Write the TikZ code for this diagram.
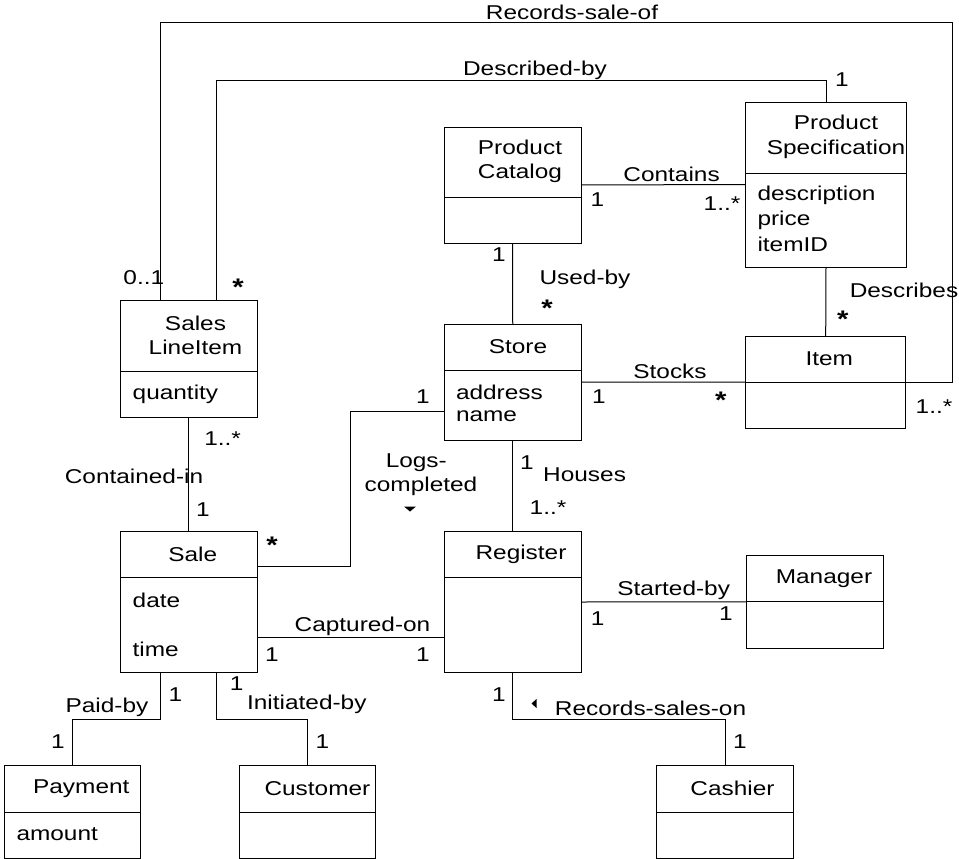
\documentclass[tikz,border=0pt]{standalone}
\usepackage{fontspec}
\setmainfont{Liberation Sans}[FakeStretch=1.22]
\tikzset{
  cls/.style={draw, line width=1pt, rectangle, inner sep=0pt, outer sep=0pt},
  lbl/.style={inner sep=0pt, outer sep=0pt, font=\fontsize{20}{24.5}\selectfont},
  att/.style={lbl, anchor=west},
  star/.style={inner sep=0pt, outer sep=0pt, font=\fontsize{24}{24}\selectfont\bfseries, yshift=-5pt},
  conn/.style={line width=1pt},
}
\newcommand\umlbox[6]{%
  \node[cls, minimum width={#4-#2}, minimum height={#5-#3}] (#1) at ({(#2+#4)/2},{(#3+#5)/2}) {};
  \draw[line width=1pt] (#1.west |- 0,#6) -- (#1.east |- 0,#6);
}
\begin{document}
\begin{tikzpicture}[x=1pt,y=-1pt]
\useasboundingbox (0,0) rectangle (959,859);
% class boxes
\umlbox{sli}{120}{300.7}{257}{417.3}{371}
\umlbox{cat}{444}{127}{581}{243}{197}
\umlbox{spec}{745.5}{102}{906.5}{267}{173}
\umlbox{store}{444.5}{324}{581}{440}{370}
\umlbox{item}{745.7}{336}{905.7}{428.3}{382.3}
\umlbox{sale}{120}{531.7}{257}{672.3}{577.7}
\umlbox{reg}{444.5}{531.7}{581}{672.3}{577.7}
\umlbox{mgr}{746.8}{555.7}{883.2}{648}{601.7}
\umlbox{pay}{4.9}{765.7}{140.7}{858}{812}
\umlbox{cust}{239.8}{765.7}{375.5}{858}{812}
\umlbox{cash}{656.9}{765.7}{793.3}{858}{812}
% class titles and attributes
\node[lbl, align=center] (tsli) at (195.5,335.5) {Sales\\LineItem};
\node[att] (asli) at (132.7,394) {quantity};
\node[lbl, align=center] (tcat) at (520,161.5) {Product\\Catalog};
\node[lbl, align=center] (tspec) at (836,137) {Product\\Specification};
\node[att] (aspec1) at (757.5,195) {description};
\node[att] (aspec2) at (757.5,220) {price};
\node[att] (aspec3) at (757.5,244.3) {itemID};
\node[lbl] (tstore) at (518,346.7) {Store};
\node[att] (astore1) at (456,392) {address};
\node[att] (astore2) at (456,416.7) {name};
\node[lbl] (titem) at (829.3,358.7) {Item};
\node[lbl] (tsale) at (192.7,554) {Sale};
\node[att] (asale1) at (132.7,600) {date};
\node[att] (asale2) at (132.7,649.3) {time};
\node[lbl] (treg) at (521,554) {Register};
\node[lbl] (tmgr) at (824,578.3) {Manager};
\node[lbl] (tpay) at (81.3,788.3) {Payment};
\node[att] (apay) at (16.5,834.3) {amount};
\node[lbl] (tcust) at (317.4,788.3) {Customer};
\node[lbl] (tcash) at (732.5,788.3) {Cashier};
% bend points
\coordinate (rsobend) at (952,22.7);
\coordinate (dbbend) at (spec.north |- 0,80.7);
\coordinate (logbend) at (350.7,566);
\coordinate (pbbend) at (pay.north |- 0,719);
\coordinate (ibbend) at (cust.north |- 0,719);
\coordinate (rsbend) at (cash.north |- 0,719);
% connectors
\draw[conn] ([xshift=-28pt]sli.north) |- (rsobend) |- (item.east);
\draw[conn] ([xshift=27.5pt]sli.north) |- (dbbend) -- (spec.north);
\draw[conn] (cat.east) -- (spec.west);
\draw[conn] (cat.south) -- (store.north);
\draw[conn] (spec.south) -- (item.north);
\draw[conn] (store.east) -- (item.west);
\draw[conn] (store.south) -- (reg.north);
\draw[conn] (sli.south) -- (sale.north);
\draw[conn] ([yshift=-29.7pt]store.west) -| (logbend) -- ([yshift=36pt]sale.east);
\draw[conn] ([yshift=-35.3pt]sale.east) -- ([yshift=-35.3pt]reg.west);
\draw[conn] (reg.east) -- (mgr.west);
\draw[conn] ([xshift=-28.5pt]sale.south) |- (pbbend) -- (pay.north);
\draw[conn] ([xshift=28.3pt]sale.south) |- (ibbend) -- (cust.north);
\draw[conn] (reg.south) |- (rsbend) -- (cash.north);
% direction triangles
\fill (404,506.5) -- (416,506.5) -- (410,511.5) -- cycle;
\fill (536.5,699) -- (536.5,708) -- (531.5,703.5) -- cycle;
% labels
\node[lbl] (lrso) at (572,12.7) {Records-sale-of};
\node[lbl] (ldb) at (535,70.7) {Described-by};
\node[lbl] (m1) at (842,80) {1};
\node[lbl] (lcont) at (671.6,174) {Contains};
\node[lbl] (m2) at (597.5,200) {1};
\node[lbl] (m3) at (722,204) {1..*};
\node[lbl] (m4) at (499,255) {1};
\node[lbl] (lused) at (585,279) {Used-by};
\node[star] (m5) at (547,303) {*};
\node[lbl] (m6) at (143.8,278) {0..1};
\node[star] (m7) at (238,282) {*};
\node[lbl] (ldesc) at (904,290.7) {Describes};
\node[star] (m8) at (842.7,314.3) {*};
\node[lbl] (lstocks) at (670,371) {Stocks};
\node[lbl] (m9) at (599,396.7) {1};
\node[star] (m10) at (720.7,395) {*};
\node[lbl] (m11) at (934,406.7) {1..*};
\node[lbl] (m12) at (423,396.7) {1};
\node[lbl] (m13) at (222.6,439) {1..*};
\node[lbl] (lci) at (134,476) {Contained-in};
\node[lbl] (m14) at (203,509.3) {1};
\node[lbl] (llogs1) at (416.3,462.7) {Logs-};
\node[lbl] (llogs2) at (421,486.7) {completed};
\node[star] (m15) at (272,540) {*};
\node[lbl] (m16) at (527,462.7) {1};
\node[lbl] (lhouses) at (584.6,474.3) {Houses};
\node[lbl] (m17) at (548,507.7) {1..*};
\node[lbl] (lsb) at (673.7,590.7) {Started-by};
\node[lbl] (m18) at (597.6,619) {1};
\node[lbl] (m19) at (726,613.3) {1};
\node[lbl] (lco) at (362.5,626) {Captured-on};
\node[lbl] (m20) at (272,654.3) {1};
\node[lbl] (m21) at (423,654.3) {1};
\node[lbl] (m22) at (175.5,695) {1};
\node[lbl] (lpb) at (107,707.7) {Paid-by};
\node[lbl] (m23) at (58,741.7) {1};
\node[lbl] (m24) at (236.7,683.3) {1};
\node[lbl] (lib) at (306.8,704.3) {Initiated-by};
\node[lbl] (m25) at (322.3,741.7) {1};
\node[lbl] (m26) at (499,695) {1};
\node[lbl] (lrson) at (650.5,708.3) {Records-sales-on};
\node[lbl] (m27) at (740,741.7) {1};
\end{tikzpicture}
\end{document}
